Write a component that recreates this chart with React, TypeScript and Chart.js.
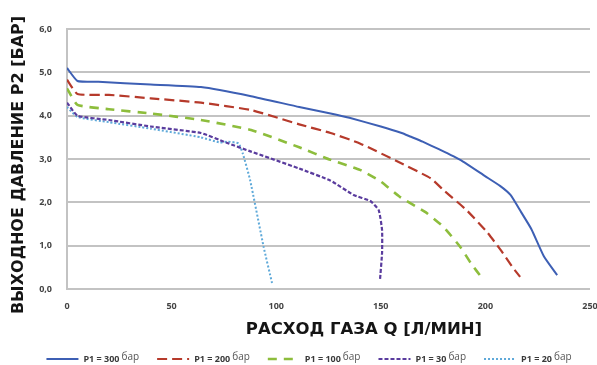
import React, { useEffect, useRef } from 'react';
import { Chart, registerables } from 'chart.js';

Chart.register(...registerables);

// ---- data ----
const seriesLabels = ['P1 = 300', 'P1 = 200', 'P1 = 100', 'P1 = 30', 'P1 = 20'];
const unitLabel = 'бар';
const xTitle = 'РАСХОД ГАЗА Q [Л/МИН]';
const yTitle = 'ВЫХОДНОЕ ДАВЛЕНИЕ P2 [БАР]';
const xTicks = [0, 50, 100, 150, 200, 250];
const yTicks = [0, 1, 2, 3, 4, 5, 6];

const q300 = [0, 5, 15, 40, 64, 88, 111, 126, 135, 150, 160, 164, 170, 178, 188, 200, 207, 212, 217, 222, 228, 234.3];
const p300 = [5.1, 4.8, 4.78, 4.72, 4.66, 4.45, 4.2, 4.05, 3.95, 3.75, 3.6, 3.52, 3.4, 3.22, 2.98, 2.6, 2.38, 2.17, 1.78, 1.38, 0.75, 0.32];

const q200 = [0, 5, 20, 40, 64, 88, 111, 126, 140, 159, 174, 180, 191, 201, 207, 213, 216.6];
const p200 = [4.83, 4.5, 4.48, 4.4, 4.3, 4.13, 3.8, 3.6, 3.36, 2.92, 2.55, 2.28, 1.82, 1.3, 0.92, 0.5, 0.28];

const q100 = [0, 5, 20, 40, 64, 88, 111, 126, 140, 150, 159, 172, 180, 188, 193, 198.4];
const p100 = [4.63, 4.25, 4.15, 4.05, 3.9, 3.67, 3.27, 2.98, 2.75, 2.48, 2.13, 1.75, 1.43, 0.97, 0.6, 0.25];

const q30 = [0, 5, 20, 40, 64, 76, 88, 111, 126, 137, 145, 149, 150.6, 150.6, 149.6];
const p30 = [4.3, 4.0, 3.9, 3.75, 3.6, 3.38, 3.17, 2.78, 2.5, 2.17, 2.03, 1.82, 1.36, 0.83, 0.2];

const q20 = [0, 5, 20, 40, 64, 73, 77, 82, 84, 87.5, 94, 98];
const p20 = [4.2, 3.97, 3.85, 3.7, 3.5, 3.38, 3.4, 3.36, 3.13, 2.52, 0.97, 0.14];

const seriesQ = [q300, q200, q100, q30, q20];
const seriesP = [p300, p200, p100, p30, p20];

// ---- styles ----
const colors = ['#3d5fb4', '#b63a2b', '#8dbd3c', '#5a3c9e', '#5ea9d9'];
const dashes = [[], [10, 5], [9, 7], [4, 2], [2, 2]];
const widths = [2, 2.2, 2.6, 2.2, 2];

const toPoints = (q: number[], p: number[]) => q.map((x, i) => ({ x, y: p[i] }));

const textPlugin = {
  id: 'customText',
  afterDraw(chart: any) {
    const ctx = chart.ctx as CanvasRenderingContext2D;
    // Y title
    ctx.save();
    ctx.fillStyle = '#151515';
    ctx.font = 'bold 16px "DejaVu Sans"';
    ctx.textAlign = 'center';
    ctx.textBaseline = 'middle';
    ctx.translate(18.5, 165);
    ctx.rotate(-Math.PI / 2);
    ctx.fillText(yTitle, 0, 0);
    ctx.restore();
    // X title
    ctx.save();
    ctx.fillStyle = '#151515';
    ctx.font = 'bold 16.5px "DejaVu Sans"';
    ctx.textAlign = 'center';
    ctx.textBaseline = 'middle';
    ctx.fillText(xTitle, 364, 330);
    ctx.restore();
    // Legend
    ctx.save();
    const lineLen = 32;
    const gapLT = 5;
    const gapTU = 2;
    const gapItem = 18;
    const fText = 'bold 9px "Open Sans"';
    const fUnit = '10px "Open Sans"';
    const items = chart.data.datasets.map((ds: any) => {
      ctx.font = fText;
      const tw = ctx.measureText(ds.label).width;
      ctx.font = fUnit;
      const uw = ctx.measureText(unitLabel).width;
      return { ds, tw, uw, w: lineLen + gapLT + tw + gapTU + uw };
    });
    const total = items.reduce((s: number, it: any) => s + it.w, 0) + gapItem * (items.length - 1);
    let x = 309 - total / 2;
    const ly = 359;
    items.forEach((it: any) => {
      const ds = it.ds;
      ctx.strokeStyle = ds.borderColor;
      ctx.lineWidth = ds.borderWidth;
      ctx.setLineDash(ds.borderDash || []);
      ctx.beginPath();
      ctx.moveTo(x, ly);
      ctx.lineTo(x + lineLen, ly);
      ctx.stroke();
      ctx.setLineDash([]);
      x += lineLen + gapLT;
      ctx.fillStyle = '#3a3a3a';
      ctx.textAlign = 'left';
      ctx.textBaseline = 'alphabetic';
      ctx.font = fText;
      ctx.fillText(ds.label, x, 362);
      x += it.tw + gapTU;
      ctx.font = fUnit;
      ctx.fillStyle = '#555';
      ctx.fillText(unitLabel, x, 360);
      x += it.uw + gapItem;
    });
    ctx.restore();
  },
};

export default function App() {
  const ref = useRef<HTMLCanvasElement | null>(null);
  useEffect(() => {
    document.body.style.margin = '0';
    const canvas = ref.current;
    if (!canvas) return;
    const chart = new Chart(canvas, {
      type: 'scatter',
      data: {
        datasets: seriesLabels.map((label, i) => ({
          label,
          data: toPoints(seriesQ[i], seriesP[i]),
          showLine: true,
          borderColor: colors[i],
          backgroundColor: colors[i],
          borderWidth: widths[i],
          borderDash: dashes[i],
          pointRadius: 0,
          pointHoverRadius: 0,
          fill: false,
          tension: 0.15,
        })),
      },
      options: {
        animation: false,
        responsive: false,
        devicePixelRatio: 1,
        layout: { padding: { top: 29, right: 7, left: 0, bottom: 0 } },
        plugins: {
          legend: { display: false },
          tooltip: { enabled: false },
        },
        scales: {
          x: {
            type: 'linear',
            min: 0,
            max: 250,
            afterBuildTicks: (scale: any) => {
              scale.ticks = xTicks.map((v) => ({ value: v }));
            },
            ticks: {
              color: '#444',
              font: { family: 'Open Sans', size: 9, weight: 'bold' },
              padding: 12,
              maxRotation: 0,
            },
            grid: { display: false, drawTicks: false },
            border: { display: false },
            afterFit: (scale: any) => {
              scale.height = 76;
              scale.paddingLeft = 0;
              scale.paddingRight = 0;
            },
          },
          y: {
            type: 'linear',
            min: 0,
            max: 6,
            afterBuildTicks: (scale: any) => {
              scale.ticks = yTicks.map((v) => ({ value: v }));
            },
            ticks: {
              color: '#444',
              font: { family: 'Open Sans', size: 9, weight: 'bold' },
              padding: 15,
              callback: (v: any) => Number(v).toFixed(1).replace('.', ','),
            },
            grid: { color: '#c3c3c3', lineWidth: 2, drawTicks: false },
            border: { display: true, color: '#c3c3c3', width: 2 },
            afterFit: (scale: any) => {
              scale.width = 67;
            },
          },
        },
      },
      plugins: [textPlugin],
    } as any);
    return () => chart.destroy();
  }, []);
  return (
    <div style={{ width: 597, height: 365 }}>
      <canvas ref={ref} width={597} height={365} style={{ display: 'block' }} />
    </div>
  );
}
